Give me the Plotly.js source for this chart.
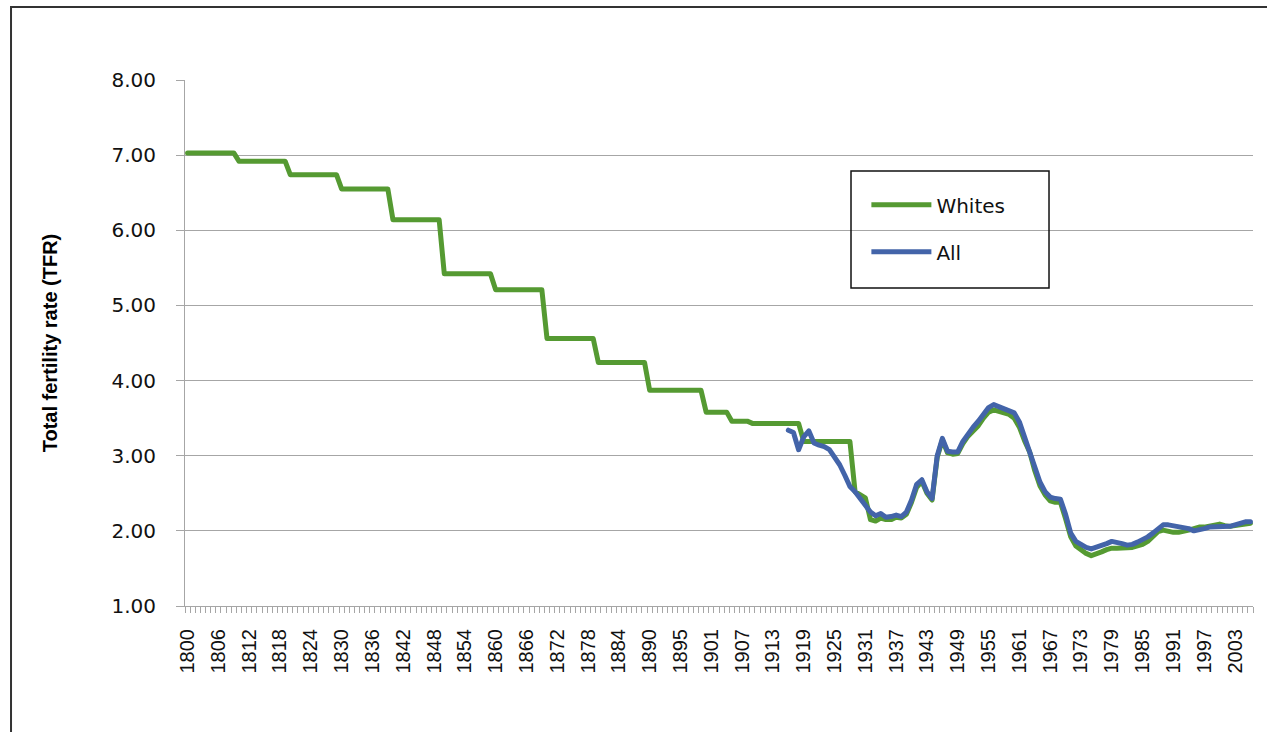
<!DOCTYPE html>
<html>
<head>
<meta charset="utf-8">
<script src="https://cdn.plot.ly/plotly-3.0.1.min.js"></script>
<style>
  html, body { margin: 0; padding: 0; background: #fff; }
  #chart { width: 1267px; height: 732px; }
  #chart .scatterlayer path.js-line { stroke-linejoin: round; stroke-linecap: round; }
</style>
</head>
<body>
<div id="chart"></div>
<script>
// Category labels (one per data row; 1890 appears twice in the source table)
const years = [
  1800,1801,1802,1803,1804,1805,1806,1807,1808,1809,
  1810,1811,1812,1813,1814,1815,1816,1817,1818,1819,
  1820,1821,1822,1823,1824,1825,1826,1827,1828,1829,
  1830,1831,1832,1833,1834,1835,1836,1837,1838,1839,
  1840,1841,1842,1843,1844,1845,1846,1847,1848,1849,
  1850,1851,1852,1853,1854,1855,1856,1857,1858,1859,
  1860,1861,1862,1863,1864,1865,1866,1867,1868,1869,
  1870,1871,1872,1873,1874,1875,1876,1877,1878,1879,
  1880,1881,1882,1883,1884,1885,1886,1887,1888,1889,
  1890,1890,1891,1892,1893,1894,
  1895,1896,1897,1898,1899,
  1900,1901,1902,1903,1904,1905,1906,1907,1908,1909,
  1910,1911,1912,1913,1914,1915,1916,1917,1918,1919,
  1920,1921,1922,1923,1924,1925,1926,1927,1928,1929,
  1930,1931,1932,1933,1934,1935,1936,1937,1938,1939,
  1940,1941,1942,1943,1944,1945,1946,1947,1948,1949,
  1950,1951,1952,1953,1954,1955,1956,1957,1958,1959,
  1960,1961,1962,1963,1964,1965,1966,1967,1968,1969,
  1970,1971,1972,1973,1974,1975,1976,1977,1978,1979,
  1980,1981,1982,1983,1984,1985,1986,1987,1988,1989,
  1990,1991,1992,1993,1994,1995,1996,1997,1998,1999,
  2000,2001,2002,2003,2004,2005,2006
];

// Total fertility rate, whites (one value per row of `years`)
const whitesTFR = [
  7.03,7.03,7.03,7.03,7.03,7.03,7.03,7.03,7.03,7.03,
  6.92,6.92,6.92,6.92,6.92,6.92,6.92,6.92,6.92,6.92,
  6.74,6.74,6.74,6.74,6.74,6.74,6.74,6.74,6.74,6.74,
  6.55,6.55,6.55,6.55,6.55,6.55,6.55,6.55,6.55,6.55,
  6.14,6.14,6.14,6.14,6.14,6.14,6.14,6.14,6.14,6.14,
  5.42,5.42,5.42,5.42,5.42,5.42,5.42,5.42,5.42,5.42,
  5.21,5.21,5.21,5.21,5.21,5.21,5.21,5.21,5.21,5.21,
  4.56,4.56,4.56,4.56,4.56,4.56,4.56,4.56,4.56,4.56,
  4.24,4.24,4.24,4.24,4.24,4.24,4.24,4.24,4.24,4.24,
  3.87,3.87,3.87,3.87,3.87,3.87,
  3.87,3.87,3.87,3.87,3.87,
  3.58,3.58,3.58,3.58,3.58,3.46,3.46,3.46,3.46,3.43,
  3.43,3.43,3.43,3.43,3.43,3.43,3.43,3.43,3.43,3.19,
  3.19,3.19,3.19,3.19,3.19,3.19,3.19,3.19,3.19,2.52,
  2.47,2.44,2.15,2.13,2.17,2.15,2.15,2.18,2.17,2.22,
  2.38,2.58,2.66,2.50,2.41,2.98,3.21,3.04,3.02,3.03,
  3.16,3.26,3.33,3.40,3.50,3.58,3.61,3.59,3.57,3.55,
  3.50,3.38,3.20,3.05,2.80,2.60,2.48,2.40,2.38,2.38,
  2.16,1.92,1.80,1.74,1.70,1.67,1.69,1.72,1.75,1.77,
  1.77,1.77,1.78,1.78,1.80,1.82,1.86,1.93,1.99,2.01,
  1.99,1.98,1.98,1.99,2.01,2.03,2.05,2.05,2.06,2.07,
  2.09,2.07,2.06,2.07,2.08,2.09,2.10
];

// Total fertility rate, all races, 1916-2006
const allFirstYear = 1916;
const allTFR = [
  3.34,3.31,3.08,3.25,
  3.33,3.17,3.14,3.12,3.08,2.99,2.88,2.74,2.59,2.52,
  2.44,2.34,2.25,2.20,2.23,2.18,2.19,2.21,2.19,2.25,
  2.41,2.62,2.68,2.52,2.43,3.00,3.23,3.06,3.05,3.05,
  3.19,3.30,3.38,3.46,3.56,3.64,3.68,3.65,3.63,3.60,
  3.57,3.45,3.25,3.10,2.85,2.65,2.52,2.45,2.43,2.42,
  2.22,1.97,1.86,1.81,1.78,1.76,1.78,1.81,1.83,1.86,
  1.85,1.83,1.81,1.82,1.85,1.88,1.92,1.97,2.03,2.08,
  2.08,2.07,2.06,2.05,2.03,2.00,2.01,2.03,2.05,2.05,
  2.06,2.06,2.06,2.08,2.10,2.12,2.12
];

const seriesNames = ['Whites', 'All'];
const seriesColors = ['#559a32', '#4364a9'];
const labelEvery = 6;

// Derived positions (category index on the axis)
const xIdx = years.map((_, i) => i);
const allStart = years.indexOf(allFirstYear);
const allIdx = allTFR.map((_, k) => allStart + k);
const tickVals = xIdx.filter(i => i % labelEvery === 0);
const tickText = tickVals.map(i => String(years[i]));
const boundaryVals = years.map((_, i) => i - 0.5).concat([years.length - 0.5]);

const traces = [
  { x: xIdx, y: whitesTFR, name: seriesNames[0], type: 'scatter', mode: 'lines',
    line: { color: seriesColors[0], width: 5 }, legendgroup: 'a' },
  { x: allIdx, y: allTFR, name: seriesNames[1], type: 'scatter', mode: 'lines',
    line: { color: seriesColors[1], width: 5 }, legendgroup: 'b' }
];

const gridGrey = '#a6a6a6';
const layout = {
  width: 1267, height: 732,
  margin: { l: 185, r: 14, t: 80, b: 126 },
  paper_bgcolor: '#ffffff', plot_bgcolor: '#ffffff',
  showlegend: true,
  legend: {
    x: 0.638, y: 0.80, xanchor: 'left', yanchor: 'top',
    bgcolor: 'rgba(0,0,0,0)', borderwidth: 0,
    font: { family: 'DejaVu Sans', size: 20, color: '#111' },
    itemwidth: 60, tracegroupgap: 18
  },
  xaxis: {
    range: [-0.5, years.length - 0.5],
    tickmode: 'array', tickvals: tickVals, ticktext: tickText,
    tickangle: -90, ticks: '', showgrid: false, zeroline: false,
    showline: true, linecolor: gridGrey, linewidth: 1,
    tickfont: { family: 'Liberation Sans, Arial', size: 20, color: '#111' },
    ticklabelstandoff: 14,
    minor: { tickmode: 'array', tickvals: boundaryVals, ticks: 'outside', ticklen: 6,
             tickcolor: gridGrey, tickwidth: 1, showgrid: false }
  },
  yaxis: {
    range: [1, 8], tick0: 1, dtick: 1, tickformat: '.2f',
    showgrid: true, gridcolor: gridGrey, gridwidth: 1, zeroline: false,
    showline: true, linecolor: gridGrey, linewidth: 1,
    ticks: 'outside', ticklen: 8, tickcolor: gridGrey,
    tickfont: { family: 'DejaVu Sans', size: 20, color: '#111' },
    ticklabelstandoff: 16,
    title: { text: 'Total fertility rate (TFR)', standoff: 48,
             font: { family: 'Liberation Sans, Arial', size: 20, color: '#000', weight: 'bold' } }
  },
  shapes: [
    // legend frame
    { type: 'rect', xref: 'paper', yref: 'paper', x0: 0.6236, x1: 0.809, y0: 0.6046, y1: 0.827,
      line: { color: '#111', width: 1.5 }, fillcolor: 'rgba(0,0,0,0)', layer: 'above' },
    // outer figure frame
    { type: 'rect', xref: 'paper', yref: 'paper', x0: -0.1629, x1: 1.05, y0: -0.35, y1: 1.1388,
      line: { color: '#333', width: 2 }, fillcolor: 'rgba(0,0,0,0)', layer: 'above' }
  ]
};

Plotly.newPlot('chart', traces, layout, { displayModeBar: false, staticPlot: true });
</script>
</body>
</html>
